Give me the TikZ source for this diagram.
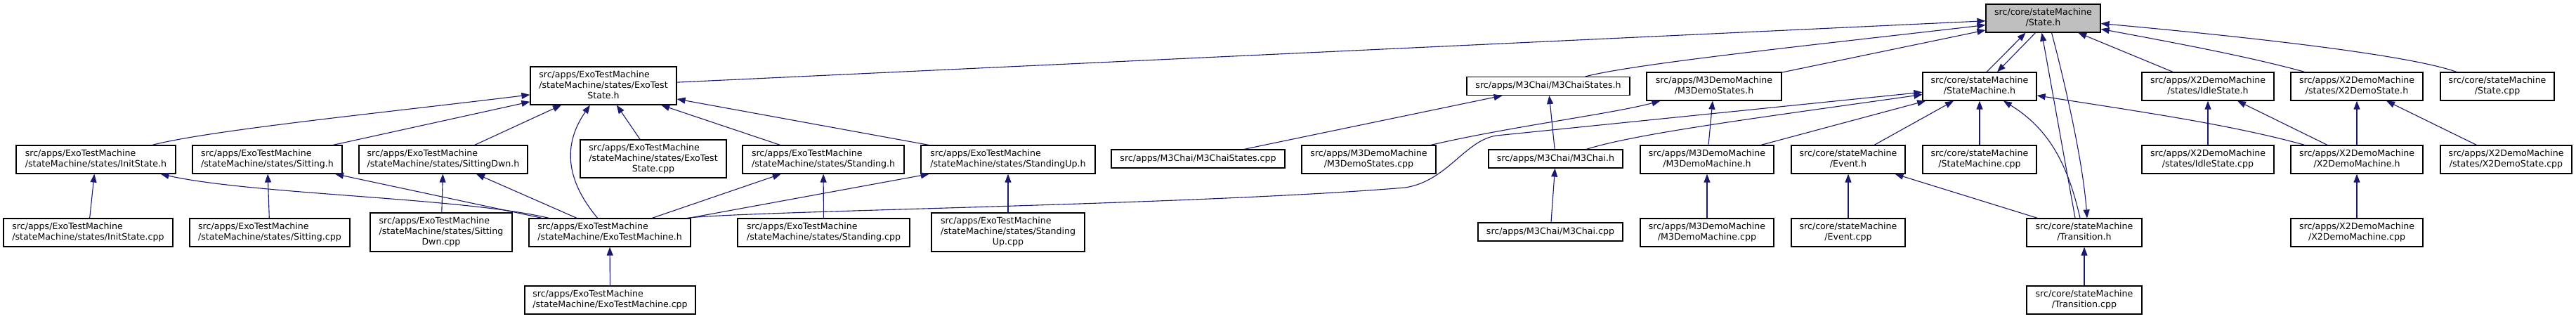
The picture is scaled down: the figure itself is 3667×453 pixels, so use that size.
\documentclass[tikz,border=0pt]{standalone}
\usepackage{fontspec}
\setmainfont{DejaVu Sans}
\usepackage{xcolor}
\usetikzlibrary{arrows.meta}
\definecolor{edge-blue}{HTML}{191970}
\definecolor{node-grey}{HTML}{BFBFBF}
\newcommand{\flabel}[2]{\begin{tabular}{@{}l@{}}#1\\\multicolumn{1}{@{}c@{}}{#2}\end{tabular}}

\begin{document}
\begin{tikzpicture}[x=1pt, y=-1pt,
    every node/.style={font=\fontsize{12.6}{15}\selectfont},
    srcfile/.style={draw=black, line width=1.2pt, fill=white, inner sep=0pt, minimum height=40pt},
    dep/.style={draw=edge-blue, line width=1.1pt, -{Triangle[length=12pt, width=9pt]}}]
    \useasboundingbox (0,0) rectangle (3667,453);

    \node[srcfile, fill=node-grey, minimum width=163pt] (stateh) at (2908.5,26) {\flabel{src/core/stateMachine}{/State.h}};

    \node[srcfile, minimum width=208pt, minimum height=54pt] (exostateh) at (859,122) {\flabel{src/apps/ExoTestMachine\\/stateMachine/states/ExoTest}{State.h}};
    \node[srcfile, minimum width=232pt, minimum height=26pt] (chaistatesh) at (2204,122.5) {src/apps/M3Chai/M3ChaiStates.h};
    \node[srcfile, minimum width=192pt] (demostatesh) at (2440,123) {\flabel{src/apps/M3DemoMachine}{/M3DemoStates.h}};
    \node[srcfile, minimum width=162pt] (smh) at (2818,123) {\flabel{src/core/stateMachine}{/StateMachine.h}};
    \node[srcfile, minimum width=188pt] (idleh) at (3143,123) {\flabel{src/apps/X2DemoMachine}{/states/IdleState.h}};
    \node[srcfile, minimum width=188pt] (x2stateh) at (3355,123) {\flabel{src/apps/X2DemoMachine}{/states/X2DemoState.h}};
    \node[srcfile, minimum width=162pt] (statecpp) at (3555,123) {\flabel{src/core/stateMachine}{/State.cpp}};

    \node[srcfile, minimum width=227pt] (inith) at (136.5,227) {\flabel{src/apps/ExoTestMachine}{/stateMachine/states/InitState.h}};
    \node[srcfile, minimum width=213pt] (sittingh) at (380.5,227) {\flabel{src/apps/ExoTestMachine}{/stateMachine/states/Sitting.h}};
    \node[srcfile, minimum width=240pt] (sitdwnh) at (631,227) {\flabel{src/apps/ExoTestMachine}{/stateMachine/states/SittingDwn.h}};
    \node[srcfile, minimum width=208pt, minimum height=54pt] (exostatecpp) at (930,226) {\flabel{src/apps/ExoTestMachine\\/stateMachine/states/ExoTest}{State.cpp}};
    \node[srcfile, minimum width=230pt] (standingh) at (1172,227) {\flabel{src/apps/ExoTestMachine}{/stateMachine/states/Standing.h}};
    \node[srcfile, minimum width=248pt] (standuph) at (1435,227) {\flabel{src/apps/ExoTestMachine}{/stateMachine/states/StandingUp.h}};
    \node[srcfile, minimum width=247pt, minimum height=26pt] (chaistatescpp) at (1705.5,226) {src/apps/M3Chai/M3ChaiStates.cpp};
    \node[srcfile, minimum width=191pt] (demostatescpp) at (1948.5,227) {\flabel{src/apps/M3DemoMachine}{/M3DemoStates.cpp}};
    \node[srcfile, minimum width=191pt, minimum height=26pt] (chaih) at (2214.5,226) {src/apps/M3Chai/M3Chai.h};
    \node[srcfile, minimum width=190pt] (demomachh) at (2430,227) {\flabel{src/apps/M3DemoMachine}{/M3DemoMachine.h}};
    \node[srcfile, minimum width=162pt] (eventh) at (2631,227) {\flabel{src/core/stateMachine}{/Event.h}};
    \node[srcfile, minimum width=162pt] (smcpp) at (2818,227) {\flabel{src/core/stateMachine}{/StateMachine.cpp}};
    \node[srcfile, minimum width=188pt] (idlecpp) at (3143,227) {\flabel{src/apps/X2DemoMachine}{/states/IdleState.cpp}};
    \node[srcfile, minimum width=188pt] (x2machh) at (3355,227) {\flabel{src/apps/X2DemoMachine}{/X2DemoMachine.h}};
    \node[srcfile, minimum width=187pt] (x2statecpp) at (3567.5,227) {\flabel{src/apps/X2DemoMachine}{/states/X2DemoState.cpp}};

    \node[srcfile, minimum width=241pt] (initcpp) at (125.5,331) {\flabel{src/apps/ExoTestMachine}{/stateMachine/states/InitState.cpp}};
    \node[srcfile, minimum width=228pt] (sittingcpp) at (384,331) {\flabel{src/apps/ExoTestMachine}{/stateMachine/states/Sitting.cpp}};
    \node[srcfile, minimum width=202pt, minimum height=55pt] (sitdwncpp) at (628,330.5) {\flabel{src/apps/ExoTestMachine\\/stateMachine/states/Sitting}{Dwn.cpp}};
    \node[srcfile, minimum width=230pt] (exomachh) at (868,331) {\flabel{src/apps/ExoTestMachine}{/stateMachine/ExoTestMachine.h}};
    \node[srcfile, minimum width=245pt] (standingcpp) at (1172.5,331) {\flabel{src/apps/ExoTestMachine}{/stateMachine/states/Standing.cpp}};
    \node[srcfile, minimum width=218pt, minimum height=55pt] (standupcpp) at (1435,330.5) {\flabel{src/apps/ExoTestMachine\\/stateMachine/states/Standing}{Up.cpp}};
    \node[srcfile, minimum width=206pt, minimum height=26pt] (chaicpp) at (2207,330) {src/apps/M3Chai/M3Chai.cpp};
    \node[srcfile, minimum width=190pt] (demomachcpp) at (2430,331) {\flabel{src/apps/M3DemoMachine}{/M3DemoMachine.cpp}};
    \node[srcfile, minimum width=162pt] (eventcpp) at (2631,331) {\flabel{src/core/stateMachine}{/Event.cpp}};
    \node[srcfile, minimum width=164pt] (transh) at (2967,331) {\flabel{src/core/stateMachine}{/Transition.h}};
    \node[srcfile, minimum width=188pt] (x2machcpp) at (3355,331) {\flabel{src/apps/X2DemoMachine}{/X2DemoMachine.cpp}};

    \node[srcfile, minimum width=243pt] (exomachcpp) at (868.5,427) {\flabel{src/apps/ExoTestMachine}{/stateMachine/ExoTestMachine.cpp}};
    \node[srcfile, minimum width=164pt] (transcpp) at (2967,427) {\flabel{src/core/stateMachine}{/Transition.cpp}};

    \draw[dep] (exostateh) -- (stateh);
    \draw[dep] (chaistatesh) .. controls (2330,90) and (2600,62) .. (stateh);
    \draw[dep] (demostatesh) -- (stateh);
    \draw[dep] ([xshift=10pt]smh.north) -- ([xshift=-25pt]stateh.south);
    \draw[dep] ([xshift=-11pt]stateh.south) -- ([xshift=25pt]smh.north);
    \draw[dep] ([xshift=-13pt]transh.north) -- ([xshift=-2pt]stateh.south);
    \draw[dep] ([xshift=12pt]stateh.south) .. controls (2940,120) and (2965,230) .. ([xshift=4pt]transh.north);
    \draw[dep] (idleh) -- (stateh);
    \draw[dep] (x2stateh) .. controls (3200,80) and (3080,58) .. (stateh);
    \draw[dep] (statecpp) .. controls (3420,75) and (3150,48) .. (stateh);

    \draw[dep] (inith) .. controls (300,185) and (550,160) .. (exostateh);
    \draw[dep] (sittingh) -- (exostateh);
    \draw[dep] (sitdwnh) -- (exostateh);
    \draw[dep] (exomachh) .. controls (800,250) and (805,200) .. (exostateh);
    \draw[dep] (exostatecpp) -- (exostateh);
    \draw[dep] (standingh) -- (exostateh);
    \draw[dep] (standuph) -- (exostateh);

    \draw[dep] (initcpp) -- (inith);
    \draw[dep] (exomachh) .. controls (658,281) and (360,277) .. (inith);
    \draw[dep] (sittingcpp) -- (sittingh);
    \draw[dep] (exomachh) -- (sittingh);
    \draw[dep] (sitdwncpp) -- (sitdwnh);
    \draw[dep] (exomachh) -- (sitdwnh);
    \draw[dep] (exomachcpp) -- (exomachh);
    \draw[dep] (exomachh) -- (standingh);
    \draw[dep] (exomachh) -- (standuph);
    \draw[dep] (standingcpp) -- (standingh);
    \draw[dep] (standupcpp) -- (standuph);
    \draw[dep] ([xshift=-6pt]exomachh.north east) .. controls (1060,300) and (1700,292) .. (2000,267) .. controls (2060,258) and (2085,200) .. (2130,193) -- (smh);

    \draw[dep] (chaistatescpp) -- (chaistatesh);
    \draw[dep] (chaih) -- (chaistatesh);
    \draw[dep] (demostatescpp) .. controls (2150,180) and (2295,162) .. (demostatesh);
    \draw[dep] (demomachh) -- (demostatesh);
    \draw[dep] (chaih) .. controls (2330,190) and (2500,168) .. (smh);
    \draw[dep] (demomachh) -- (smh);
    \draw[dep] (eventh) -- (smh);
    \draw[dep] (smcpp) -- (smh);
    \draw[dep] ([xshift=-6pt]transh.north) .. controls (2945,240) and (2920,185) .. (smh);
    \draw[dep] (x2machh) .. controls (3175,177) and (3040,158) .. (smh);
    \draw[dep] (chaicpp) -- (chaih);
    \draw[dep] (demomachcpp) -- (demomachh);
    \draw[dep] (eventcpp) -- (eventh);
    \draw[dep] (transh) -- (eventh);
    \draw[dep] (transcpp) -- (transh);
    \draw[dep] (idlecpp) -- (idleh);
    \draw[dep] (x2machh) -- (idleh);
    \draw[dep] (x2machh) -- (x2stateh);
    \draw[dep] (x2statecpp) -- (x2stateh);
    \draw[dep] (x2machcpp) -- (x2machh);
\end{tikzpicture}
\end{document}
